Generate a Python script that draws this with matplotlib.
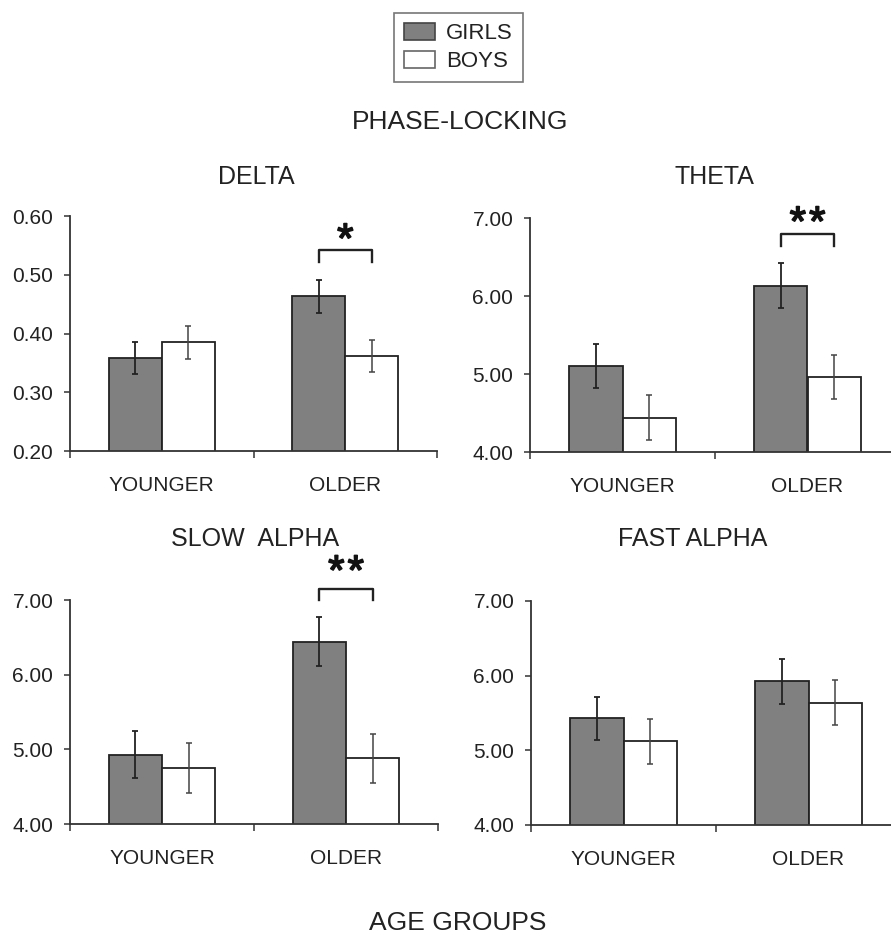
import numpy as np
import matplotlib
matplotlib.use('Agg')
import matplotlib.pyplot as plt
import matplotlib.patheffects as pe
from matplotlib.patches import Patch

plt.rcParams['font.family'] = ['Liberation Sans', 'DejaVu Sans']
plt.rcParams['text.color'] = '#222222'

groups = ['YOUNGER', 'OLDER']
series = ['GIRLS', 'BOYS']

delta_girls = [0.358, 0.463]
delta_girls_err = [0.027, 0.028]
delta_boys = [0.385, 0.362]
delta_boys_err = [0.028, 0.027]

theta_girls = [5.10, 6.13]
theta_girls_err = [0.28, 0.29]
theta_boys = [4.44, 4.96]
theta_boys_err = [0.29, 0.28]

slow_girls = [4.93, 6.44]
slow_girls_err = [0.32, 0.33]
slow_boys = [4.75, 4.88]
slow_boys_err = [0.33, 0.33]

fast_girls = [5.43, 5.925]
fast_girls_err = [0.29, 0.30]
fast_boys = [5.12, 5.64]
fast_boys_err = [0.30, 0.30]

W, H = 891, 936
fig = plt.figure(figsize=(W / 100, H / 100), dpi=100)
ink = '#222222'
axcol = '#333333'


def px_axes(left, right, top, bottom):
    return fig.add_axes([left / W, 1 - bottom / H, (right - left) / W, (bottom - top) / H])


def panel(ax, girls, gerr, boys, berr, ylim, step, fmt='%.2f'):
    x = np.arange(len(groups))
    w = 0.29
    ax.bar(x - w / 2, girls, w, color='#808080', edgecolor=ink, linewidth=1.3, zorder=2)
    ax.bar(x + w / 2, boys, w, color='white', edgecolor=ink, linewidth=1.3, zorder=2)
    ax.errorbar(x - w / 2, girls, yerr=gerr, fmt='none', ecolor=ink, elinewidth=1.3,
                capsize=2.5, capthick=1.3, zorder=3)
    ax.errorbar(x + w / 2, boys, yerr=berr, fmt='none', ecolor='#444444', elinewidth=1.1,
                capsize=2.5, capthick=1.1, zorder=3)
    ax.set_xlim(-0.5, 1.5)
    ax.set_ylim(*ylim)
    ax.set_yticks(np.arange(ylim[0], ylim[1] + step / 2, step))
    ax.yaxis.set_major_formatter(matplotlib.ticker.FormatStrFormatter(fmt))
    ax.set_xticks([-0.5, 0.5, 1.5])
    ax.set_xticklabels([])
    ax.set_xticks([0, 1], minor=True)
    ax.set_xticklabels(groups, minor=True)
    ax.tick_params(axis='x', which='major', length=5, width=1.1, color=axcol)
    ax.tick_params(axis='x', which='minor', length=0, pad=18, labelsize=15, labelcolor=ink)
    ax.tick_params(axis='y', length=4, width=1.1, color=axcol, pad=8, labelsize=15, labelcolor=ink)
    for s in ['top', 'right']:
        ax.spines[s].set_visible(False)
    for s in ['left', 'bottom']:
        ax.spines[s].set_color(axcol)
        ax.spines[s].set_linewidth(1.3)
    ax.patch.set_alpha(0)


def bracket(ax, x0, x1, ylow, ytop, nstars, ystar):
    ax.plot([x0, x0, x1, x1], [ylow, ytop, ytop, ylow], color=ink, lw=1.7, clip_on=False)
    offs = (np.arange(nstars) - (nstars - 1) / 2) * 14
    for dx in offs:
        t = ax.annotate('*', ((x0 + x1) / 2, ystar), xytext=(dx, 0), textcoords='offset points',
                        ha='center', va='center', fontsize=30, color='#111111',
                        annotation_clip=False)
        t.set_path_effects([pe.Stroke(linewidth=1.2, foreground='#111111'), pe.Normal()])


ax1 = px_axes(70, 437, 216, 451)
panel(ax1, delta_girls, delta_girls_err, delta_boys, delta_boys_err, (0.2, 0.6), 0.1)
bracket(ax1, 1 - 0.145, 1 + 0.145, 0.522, 0.542, 1, 0.557)

ax2 = px_axes(530, 900, 218, 452)
panel(ax2, theta_girls, theta_girls_err, theta_boys, theta_boys_err, (4, 7), 1)
bracket(ax2, 1 - 0.145, 1 + 0.145, 6.64, 6.79, 2, 6.92)

ax3 = px_axes(70, 438, 600, 824)
panel(ax3, slow_girls, slow_girls_err, slow_boys, slow_boys_err, (4, 7), 1)
bracket(ax3, 1 - 0.145, 1 + 0.145, 7.0, 7.15, 2, 7.36)

ax4 = px_axes(531, 901, 601, 825)
panel(ax4, fast_girls, fast_girls_err, fast_boys, fast_boys_err, (4, 7), 1)

def ftext(x, y, s, size):
    fig.text(x / W, 1 - y / H, s, ha='center', va='center', fontsize=size, color=ink)

ftext(460, 122, 'PHASE-LOCKING', 19)
ftext(256, 177, 'DELTA', 18)
ftext(714, 177, 'THETA', 18)
ftext(255, 539, 'SLOW  ALPHA', 18)
ftext(693, 539, 'FAST ALPHA', 18)
ftext(458, 923, 'AGE GROUPS', 19)

handles = [Patch(facecolor='#808080', edgecolor='#444444', linewidth=1.2),
           Patch(facecolor='white', edgecolor='#666666', linewidth=1.2)]
leg = fig.legend(handles, series, loc='upper center', bbox_to_anchor=(458.5 / W, 1 - 12.5 / H),
                 fontsize=16, frameon=True, fancybox=False, edgecolor='#555555',
                 handlelength=1.4, handleheight=0.85, handletextpad=0.5,
                 labelspacing=0.3, borderpad=0.45, borderaxespad=0)
leg.get_frame().set_linewidth(1.2)

fig.savefig('out.png', dpi=100)
